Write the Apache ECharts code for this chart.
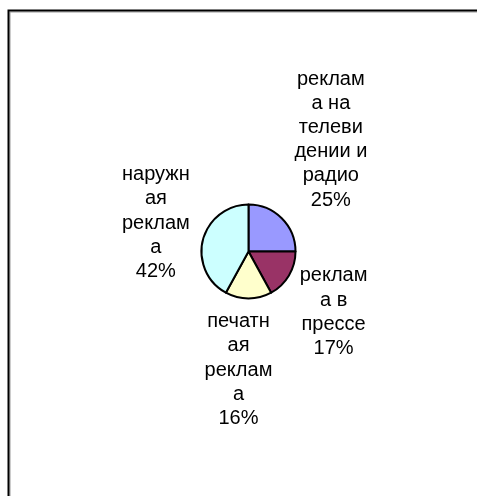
<!DOCTYPE html>
<html>
<head>
<meta charset="utf-8">
<script src="https://cdn.jsdelivr.net/npm/echarts@6/dist/echarts.min.js"></script>
<style>
  html, body { margin: 0; padding: 0; background: #fff; }
  #chart { width: 477px; height: 496px; }
</style>
</head>
<body>
<div id="chart"></div>
<script>
// Advertising budget split, wrapped category names as shown beside the pie
const categories = [
  'реклам\nа на\nтелеви\nдении и\nрадио',
  'реклам\nа в\nпрессе',
  'печатн\nая\nреклам\nа',
  'наружн\nая\nреклам\nа'
];
const shares = [25, 17, 16, 42];
const sliceColors = ['#9999FF', '#993366', '#FFFFCC', '#CCFFFF'];

// Label placement: distance from the pie centre along each slice's mid-angle,
// plus a small sideways shift along the rim direction
const labelRadius = [85, 65, 55, 62];
const labelShift = [-5, 0, 10, 1];
const labelDrop = 3;   // text sits a little below the geometric centre

const pieCenter = [248.5, 251.5];
const pieRadius = 47;

const total = shares.reduce((a, b) => a + b, 0);
const midAngles = [];
let acc = 0;
shares.forEach(v => {
  midAngles.push((acc + v / 2) / total * Math.PI * 2);
  acc += v;
});

const chart = echarts.init(document.getElementById('chart'), null, { renderer: 'canvas' });

chart.setOption({
  animation: false,
  backgroundColor: '#fff',
  graphic: [
    {
      type: 'polyline',
      shape: { points: [[10, 500], [10, 12], [480, 12]] },
      style: { stroke: '#9a9a9a', lineWidth: 1, fill: null }
    },
    {
      type: 'polyline',
      shape: { points: [[8.5, 500], [8.5, 10.5], [480, 10.5]] },
      style: { stroke: '#000', lineWidth: 2, fill: null }
    }
  ],
  series: [{
    type: 'pie',
    center: pieCenter,
    radius: pieRadius,
    startAngle: 90,
    clockwise: true,
    data: categories.map((name, i) => ({
      name: name,
      value: shares[i],
      itemStyle: { color: sliceColors[i] }
    })),
    itemStyle: { borderColor: '#000', borderWidth: 2 },
    emphasis: { disabled: true },
    label: {
      show: true,
      position: 'outside',
      formatter: '{b}\n{c}%',
      fontFamily: 'Liberation Sans, Arial, sans-serif',
      fontSize: 20,
      lineHeight: 24.2,
      color: '#000',
      align: 'center'
    },
    labelLine: { show: false },
    labelLayout: function (p) {
      const i = p.dataIndex;
      const a = midAngles[i];
      const dx = Math.sin(a), dy = -Math.cos(a);
      const tx = Math.cos(a), ty = Math.sin(a);
      const w = p.labelRect.width, h = p.labelRect.height;
      const r = labelRadius[i];
      return {
        x: pieCenter[0] + dx * r + dx * w / 2 + tx * labelShift[i],
        y: pieCenter[1] + dy * r + dy * h / 2 + ty * labelShift[i] + labelDrop,
        align: 'center',
        verticalAlign: 'middle',
        hideOverlap: false,
        moveOverlap: null
      };
    }
  }]
});
</script>
</body>
</html>
